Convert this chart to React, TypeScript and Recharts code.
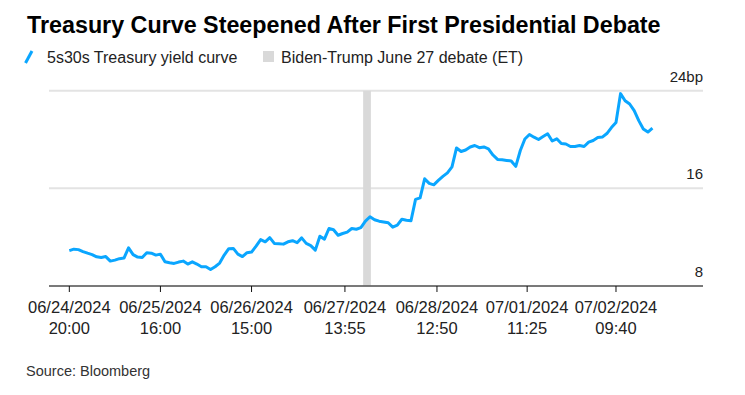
import { LineChart, Line, XAxis, YAxis, CartesianGrid, ReferenceArea } from 'recharts';

const FONT = '"Liberation Sans", Arial, Helvetica, sans-serif';
const LINE_COLOR = '#0aa6ff';

// x-axis tick labels (two lines each) and where they sit on the bar index
const dateLabels = ['06/24/2024', '06/25/2024', '06/26/2024', '06/27/2024', '06/28/2024', '07/01/2024', '07/02/2024'];
const timeLabels = ['20:00', '16:00', '15:00', '13:55', '12:50', '11:25', '09:40'];
const tickIndex = [0, 20, 40, 60.5, 80.7, 100.5, 120];

const yTicks = [8, 16, 24];

// debate window, in bar index units
const debateStart = 64.5;
const debateEnd = 66.2;

// 5s30s curve, bp
const curveValues = [
  10.9, 11.02, 10.98, 10.82, 10.69, 10.57, 10.39, 10.34, 10.41, 10.04,
  10.12, 10.24, 10.29, 11.13, 10.57, 10.37, 10.33, 10.73, 10.69, 10.53,
  10.61, 9.98, 9.9, 9.85, 9.96, 10.04, 9.8, 9.98, 9.8, 9.58,
  9.58, 9.35, 9.58, 9.88, 10.53, 11.06, 11.08, 10.61, 10.41, 10.73,
  10.78, 11.27, 11.8, 11.62, 11.96, 11.49, 11.47, 11.43, 11.62, 11.71,
  11.55, 11.94, 11.49, 11.31, 10.94, 12.08, 11.84, 12.71, 12.61, 12.16,
  12.3, 12.41, 12.71, 12.65, 12.78, 13.31, 13.67, 13.43, 13.31, 13.25,
  13.18, 12.82, 12.98, 13.47, 13.39, 13.35, 15.1, 15.22, 16.78, 16.41,
  16.29, 16.65, 16.98, 17.27, 17.76, 19.31, 19.02, 19.14, 19.39, 19.51,
  19.33, 19.39, 19.24, 18.73, 18.37, 18.34, 18.29, 18.24, 17.8, 19.1,
  20.04, 20.41, 20.19, 20.0, 20.24, 20.47, 19.88, 20.06, 19.67, 19.63,
  19.43, 19.43, 19.51, 19.43, 19.78, 19.92, 20.16, 20.2, 20.49, 20.98,
  21.39, 23.76, 23.18, 22.91, 22.37, 21.55, 20.87, 20.61, 20.94,
];

const data = curveValues.map((v, i) => ({ idx: i, value: v }));

const DateTick = (props: any) => {
  const { x, y, index } = props;
  return (
    <g>
      <text x={x} y={y + 21} textAnchor="middle" fontSize={16.5} fill="#222" fontFamily={FONT}>
        {dateLabels[index]}
      </text>
      <text x={x} y={y + 42} textAnchor="middle" fontSize={16.5} fill="#222" fontFamily={FONT}>
        {timeLabels[index]}
      </text>
    </g>
  );
};

const ValueTick = (props: any) => {
  const { x, y, payload } = props;
  const label = payload.value === 24 ? '24bp' : String(payload.value);
  return (
    <text x={x} y={y - 9} textAnchor="end" fontSize={15} fill="#222" fontFamily={FONT}>
      {label}
    </text>
  );
};

export default function App() {
  return (
    <div style={{ position: 'absolute', left: 0, top: 0, width: 745, height: 395, background: '#fff', fontFamily: FONT }}>
      <div style={{ position: 'absolute', left: 0, top: 0 }}>
        <LineChart
          width={745}
          height={395}
          data={data}
          margin={{ top: 90.7, right: 0, bottom: 0, left: 49 }}
        >
          <CartesianGrid vertical={false} stroke="#e3e3e3" strokeWidth={2} />
          <ReferenceArea x1={debateStart} x2={debateEnd} y1={8} y2={24} fill="#d9d9d9" fillOpacity={1} stroke="none" />
          <XAxis
            dataKey="idx"
            type="number"
            domain={[-4.46, 139.1]}
            ticks={tickIndex}
            allowDataOverflow
            interval={0}
            axisLine={{ stroke: '#111', strokeWidth: 1 }}
            tickLine={{ stroke: '#111', strokeWidth: 1 }}
            tickSize={6}
            tickMargin={0}
            tick={<DateTick />}
            height={109}
          />
          <YAxis
            orientation="right"
            type="number"
            domain={[8, 24]}
            ticks={yTicks}
            width={42}
            axisLine={false}
            tickLine={false}
            tickSize={0}
            tickMargin={0}
            tick={<ValueTick />}
          />
          <Line
            type="linear"
            dataKey="value"
            stroke={LINE_COLOR}
            strokeWidth={3}
            dot={false}
            isAnimationActive={false}
            strokeLinejoin="round"
          />
        </LineChart>
      </div>
      <svg width={745} height={395} style={{ position: 'absolute', left: 0, top: 0, pointerEvents: 'none' }}>
        <text x={27} y={33} fontSize={23.3} fontWeight="bold" fill="#000" fontFamily={FONT}>
          Treasury Curve Steepened After First Presidential Debate
        </text>
        <line x1={25.5} y1={63} x2={32} y2={51} stroke={LINE_COLOR} strokeWidth={3} />
        <text x={47} y={63} fontSize={16} fill="#222" fontFamily={FONT}>
          5s30s Treasury yield curve
        </text>
        <rect x={263} y={51} width={11} height={11} fill="#d9d9d9" />
        <text x={281} y={63} fontSize={16} fill="#222" fontFamily={FONT}>
          Biden-Trump June 27 debate (ET)
        </text>
        <text x={26} y={376} fontSize={14.5} fill="#333" fontFamily={FONT}>
          Source: Bloomberg
        </text>
      </svg>
    </div>
  );
}
